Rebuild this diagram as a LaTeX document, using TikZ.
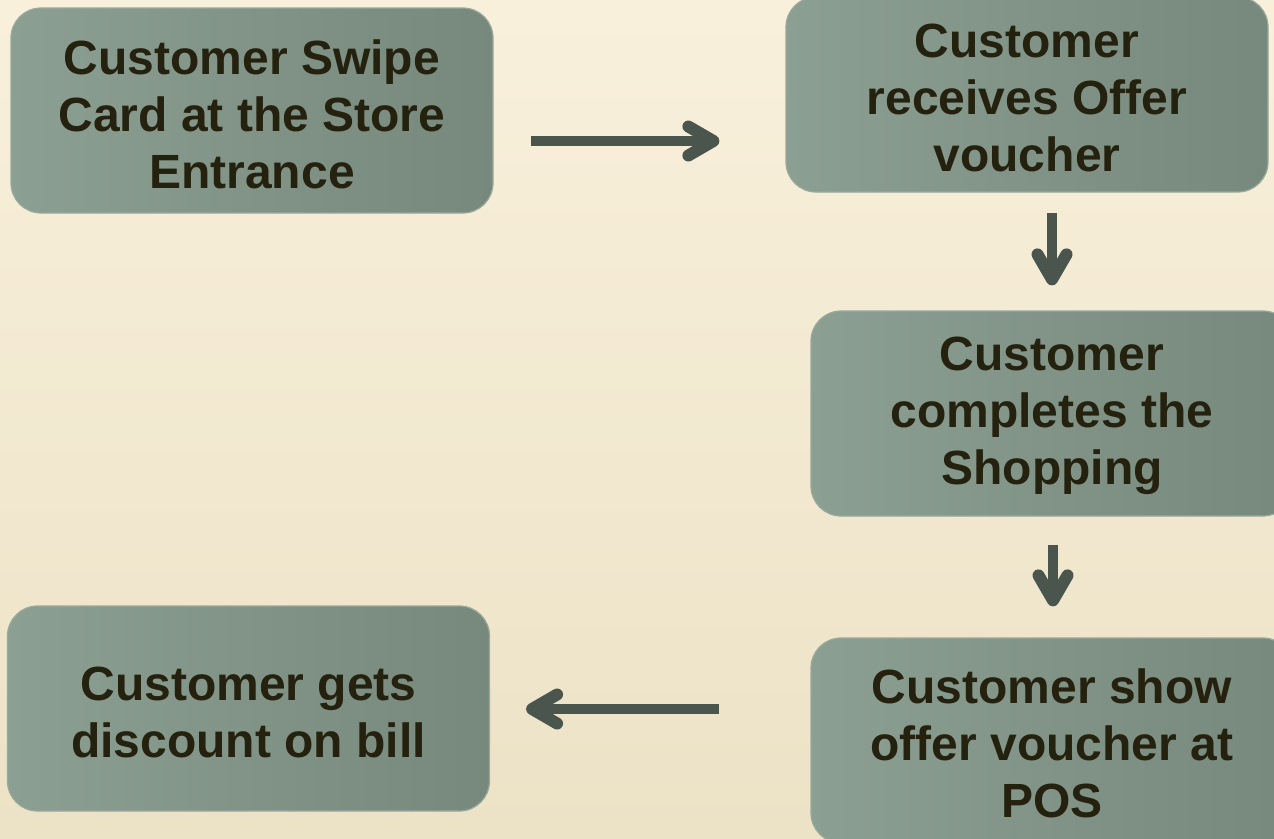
\documentclass[tikz,border=0pt]{standalone}
\usepackage{fontspec}
\setmainfont{Liberation Sans}
\usetikzlibrary{arrows.meta}
\definecolor{bgtop}{HTML}{F9F0DC}
\definecolor{bgbot}{HTML}{ECE2C6}
\definecolor{boxL}{HTML}{8C9F93}
\definecolor{boxR}{HTML}{77887C}
\definecolor{boxedge}{HTML}{9AA99C}
\definecolor{txt}{HTML}{24220E}
\definecolor{arrc}{HTML}{4A554D}
\tikzset{
  stepbox/.style={rectangle, rounded corners=30pt, draw=boxedge, line width=1.2pt,
    left color=boxL, right color=boxR, minimum width=482pt, minimum height=205pt,
    inner sep=0pt},
  steptext/.style={align=center, text=txt, inner sep=0pt,
    font=\bfseries\fontsize{48}{57}\selectfont},
  arr/.style={draw=arrc, line width=9.5pt,
    -{Straight Barb[round, length=25pt, width=29pt, line width=12pt]}}
}
\begin{document}
\begin{tikzpicture}[x=1pt, y=-1pt]
\useasboundingbox (0,0) rectangle (1274,838);
\clip (0,0) rectangle (1274,838);
\shade[top color=bgtop, bottom color=bgbot] (0,0) rectangle (1274,838);
\node[stepbox] (b1) at (252,110.5) {};
\node[stepbox, minimum height=195pt] (b2) at (1027,94.5) {};
\node[stepbox] (b3) at (1052,413.5) {};
\node[stepbox] (b4) at (1052,740.5) {};
\node[stepbox] (b5) at (248.5,708.5) {};
\node[steptext] (t1) at ([yshift=-3.5pt]b1.center) {Customer Swipe\\Card at the Store\\Entrance};
\node[steptext] (t2) at ([yshift=-3pt]b2.center) {Customer\\receives Offer\\voucher};
\node[steptext] (t3) at ([yshift=-2pt]b3.center) {Customer\\completes the\\Shopping};
\node[steptext] (t4) at ([yshift=-3pt]b4.center) {Customer show\\offer voucher at\\POS};
\node[steptext] (t5) at ([yshift=-4pt]b5.center) {Customer gets\\discount on bill};
\coordinate (h1) at (0,141);
\coordinate (v1) at (1052,0);
\coordinate (v2) at (1053,0);
\coordinate (h2) at (0,709);
\draw[arr, shorten <=37pt, shorten >=66pt] (b1.east |- h1) -- (b2.west |- h1);
\draw[arr, shorten <=20pt, shorten >=25pt] (b2.south -| v1) -- (b3.north -| v1);
\draw[arr, shorten <=28pt, shorten >=31pt] (b3.south -| v2) -- (b4.north -| v2);
\draw[arr, shorten <=91pt, shorten >=36pt] (b4.west |- h2) -- (b5.east |- h2);
\end{tikzpicture}
\end{document}
